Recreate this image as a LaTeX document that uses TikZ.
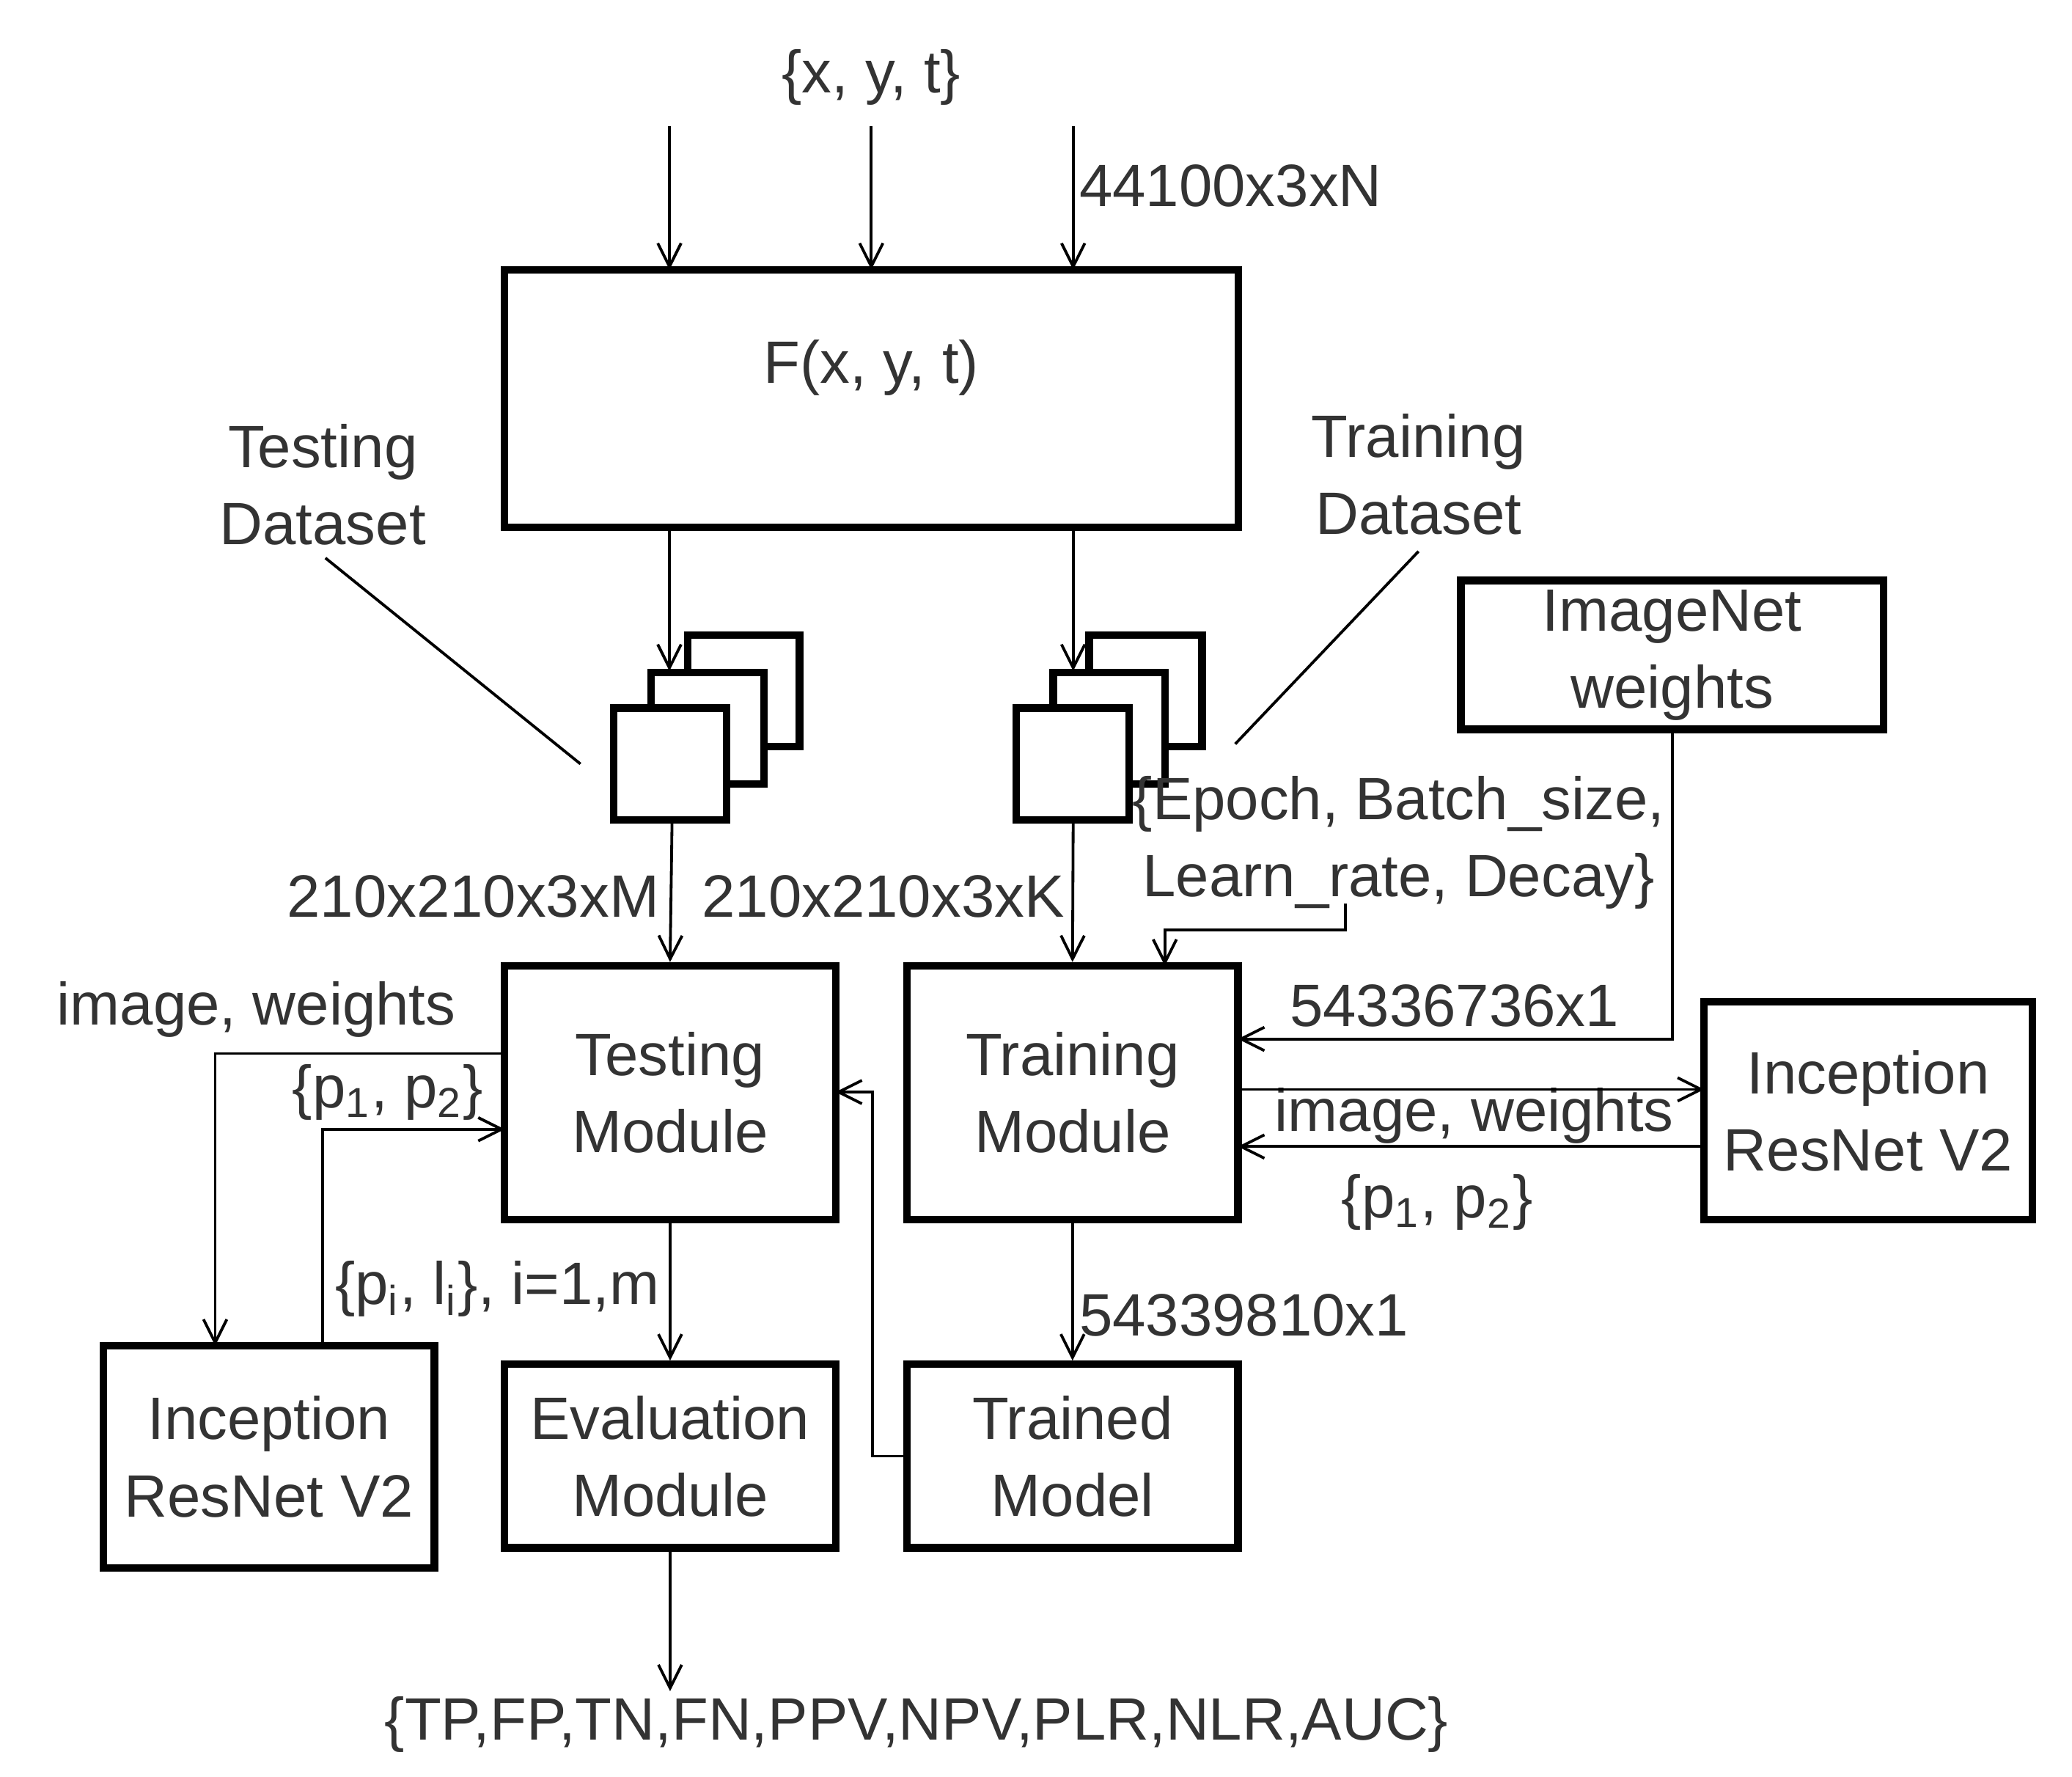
\documentclass[tikz,border=0pt]{standalone}
\usepackage{fontspec}
\setmainfont{Liberation Sans}
\usetikzlibrary{arrows.meta}
\begin{document}
\begin{tikzpicture}[x=0.01cm,y=-0.01cm,
  box/.style={draw,line width=1.6pt,fill=white,align=center,inner sep=0pt,text=black!80,font=\fontsize{12.8}{16.5}\selectfont},
  sq/.style={draw,line width=1.6pt,fill=white},
  arr/.style={-{Straight Barb[length=5pt,width=5pt]},line width=0.6pt},
  ln/.style={line width=0.6pt},
  lb/.style={font=\fontsize{12.8}{16.5}\selectfont,text=black!80,inner sep=0pt,align=center}]
\useasboundingbox (0,0) rectangle (1560,1337);
% boxes
\node[box,minimum width=5.52cm,minimum height=1.94cm] (F) at (656,300) {};
\node[lb] at (656,277) {F(x, y, t)};
\node[box,minimum width=3.18cm,minimum height=1.12cm] (IN) at (1259,493) {ImageNet\\weights};
\node[box,minimum width=2.49cm,minimum height=1.91cm] (TeM) at (504.5,822.5) {Testing\\Module};
\node[box,minimum width=2.49cm,minimum height=1.91cm] (TrM) at (807.5,822.5) {Training\\Module};
\node[box,minimum width=2.47cm,minimum height=1.64cm] (IR) at (1406.5,836) {Inception\\ResNet V2};
\node[box,minimum width=2.49cm,minimum height=1.67cm] (IL) at (202.5,1096.5) {Inception\\ResNet V2};
\node[box,minimum width=2.49cm,minimum height=1.38cm] (EM) at (504.5,1096) {Evaluation\\Module};
\node[box,minimum width=2.49cm,minimum height=1.38cm] (TM) at (807.5,1096) {Trained\\Model};
% stacks
\draw[sq] (518,478) rectangle (602,562);
\draw[sq] (490,506) rectangle (575,590);
\draw[sq] (462,533) rectangle (547,617);
\draw[sq] (820,478) rectangle (905,562);
\draw[sq] (793,506) rectangle (877,590);
\draw[sq] (765,533) rectangle (850,617);
\coordinate (SL) at (506,617); \coordinate (SR) at (808,617);
% labels
\node[lb] (xyt) at (656,58) {\{x, y, t\}};
\node[lb,anchor=west] (n1) at (812,140) {44100x3xN};
\node[lb] (tsd) at (243,365) {Testing\\Dataset};
\node[lb] (trd) at (1068,357) {Training\\Dataset};
\node[lb] (ep) at (1053,634) {\{Epoch, Batch\_size,\\Learn\_rate, Decay\}};
\node[lb,anchor=east] at (497,675) {210x210x3xM};
\node[lb,anchor=east] at (802,675) {210x210x3xK};
\node[lb] at (1095,757) {54336736x1};
\node[lb] at (1110,840) {image, weights};
\node[lb] at (1082,905) {\{p\textsubscript{1}, p\textsubscript{2}\}};
\node[lb,anchor=west] at (812,990) {54339810x1};
\node[lb] at (193,760) {image, weights};
\node[lb] at (292,822) {\{p\textsubscript{1}, p\textsubscript{2}\}};
\node[lb,anchor=east] at (497,970) {\{p\textsubscript{i}, l\textsubscript{i}\}, i=1,m};
\node[lb] (out) at (690,1298) {\{TP,FP,TN,FN,PPV,NPV,PLR,NLR,AUC\}};
% connectors
\coordinate (a1) at (504,95); \coordinate (a2) at (656,95); \coordinate (a3) at (808,95);
\draw[arr] (a1) -- (504,203);
\draw[arr] (a2) -- (656,203);
\draw[arr] (a3) -- (808,203);
\draw[arr] (504,397) -- (504,505);
\draw[arr] (808,397) -- (808,505);
\draw[ln] (245,420) -- (437,575);
\draw[ln] (1068,415) -- (930,560);
\draw[arr] (SL) -- (TeM.north);
\draw[arr] (SR) -- (TrM.north);
\draw[arr] (1013,680) -- (1013,700) -- (877,700) -- (877,727);
\draw[arr] (IN.south) -- (1259,782) -- (932,782);
\draw[arr] (932,820) -- (1283,820);
\draw[arr] (1283,863) -- (932,863);
\draw[arr] (TrM.south) -- (TM.north);
\draw[arr] (TM.west) -- (657,1096) -- (657,822) -- (629,822);
\draw[arr] (380,793) -- (162,793) -- (162,1013);
\draw[arr] (243,1013) -- (243,850) -- (380,850);
\draw[arr] (TeM.south) -- (EM.north);
\draw[arr] (EM.south) -- (504.5,1273);
\end{tikzpicture}
\end{document}
